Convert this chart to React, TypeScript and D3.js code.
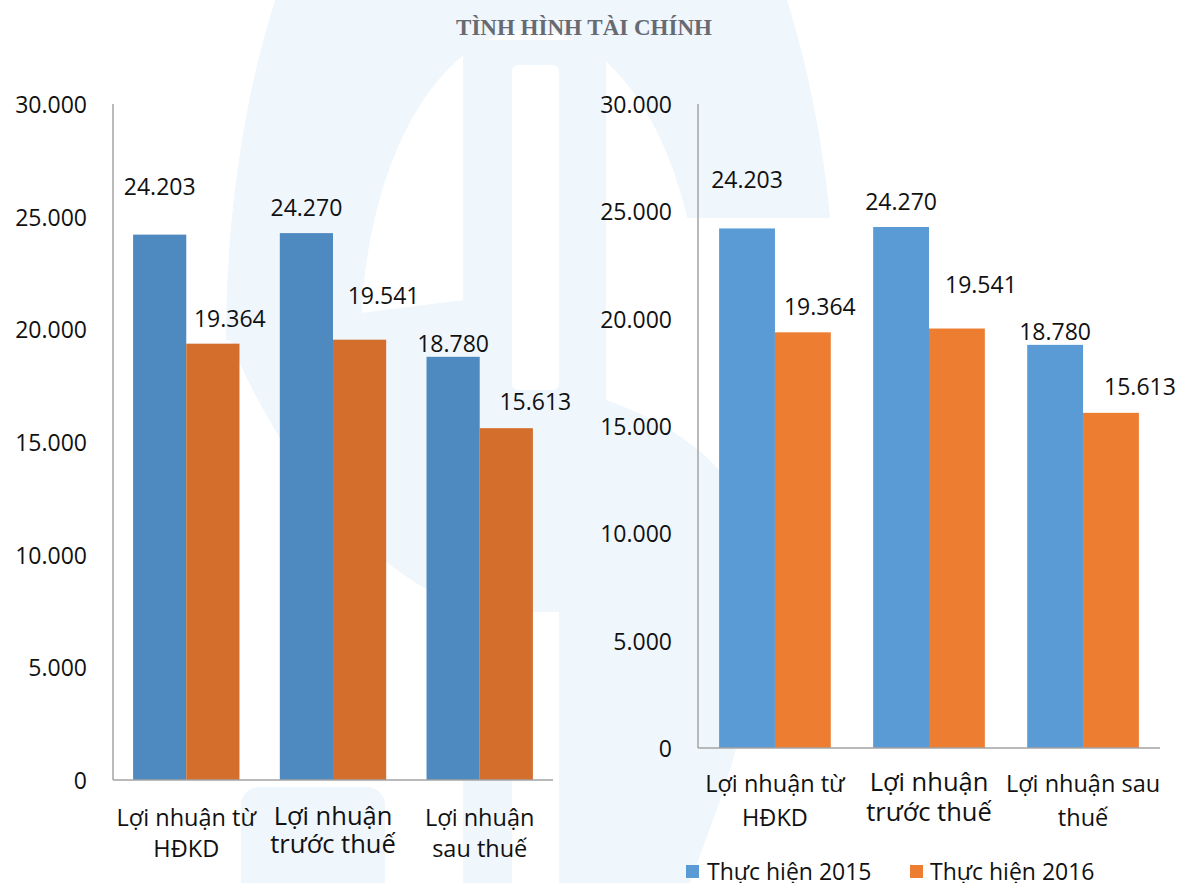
import React from 'react';
import * as d3 from 'd3';

const series = ['Thực hiện 2015', 'Thực hiện 2016'];
const values2015 = [24203, 24270, 18780];
const values2016 = [19364, 19541, 15613];
const yTicks = [0, 5000, 10000, 15000, 20000, 25000, 30000];
const leftCategories = [['Lợi nhuận từ', 'HĐKD'], ['Lợi nhuận', 'trước thuế'], ['Lợi nhuận', 'sau thuế']];
const rightCategories = [['Lợi nhuận từ', 'HĐKD'], ['Lợi nhuận', 'trước thuế'], ['Lợi nhuận sau', 'thuế']];

// hand-placed data labels in the original (offsets from bar top / bar centre)
const labelDx = [[0, 17], [0, 24], [0, 29]];
const labelDy = [[49, 26], [26, 45], [14, 27]];
const catFont = [23.5, 25.5, 23.5];

const W = 1182;
const H = 883;
const FONT = '"Open Sans", "Liberation Sans", sans-serif';
const WM = '#eff6fc';

const fmt = (v: number) => d3.format(',')(v).replace(/,/g, '.');

interface ChartProps {
  x0: number; x1: number; yTop: number; yBase: number;
  colors: string[];
  categories: string[][];
  catTop: number; catGap: number[];
}

function Chart({ x0, x1, yTop, yBase, colors, categories, catTop, catGap }: ChartProps) {
  const x = d3.scaleBand<number>().domain([0, 1, 2]).range([x0, x1]).paddingInner(0.275).paddingOuter(0.137);
  const xs = d3.scaleBand<number>().domain([0, 1]).range([0, x.bandwidth()]);
  const y = d3.scaleLinear().domain([0, 30000]).range([yBase, yTop]);
  const data = [values2015, values2016];

  return (
    <g>
      {data.map((vals, s) => vals.map((v, i) => (
        <rect key={`b${s}${i}`} x={x(i)! + xs(s)!} y={y(v)} width={xs.bandwidth()} height={yBase - y(v)} fill={colors[s]} />
      )))}
      <line x1={x0} x2={x0} y1={yTop} y2={yBase} stroke="#a3a3a3" strokeWidth={1.5} />
      <line x1={x0} x2={x1} y1={yBase} y2={yBase} stroke="#a3a3a3" strokeWidth={1.5} />
      {yTicks.map(t => (
        <text key={t} x={x0 - 26} y={y(t)} textAnchor="end" dominantBaseline="central" fontSize={23} fontFamily={FONT} fill="#111">{fmt(t)}</text>
      ))}
      {data.map((vals, s) => vals.map((v, i) => (
        <text key={`l${s}${i}`} x={x(i)! + xs(s)! + xs.bandwidth() / 2 + labelDx[i][s]} y={y(v) - labelDy[i][s]}
          textAnchor="middle" dominantBaseline="central" fontSize={23} fontFamily={FONT} fill="#111">{fmt(v)}</text>
      )))}
      {categories.map((lines, i) => {
        const big = catFont[i] > 24;
        return (
          <text key={`c${i}`} textAnchor="middle" fontSize={catFont[i]} fontFamily={FONT} fill="#111">
            {lines.map((ln, k) => (
              <tspan key={k} x={x(i)! + x.bandwidth() / 2} y={catTop + (big ? -2 : 0) + k * catGap[big ? 1 : 0]} dominantBaseline="central">{ln}</tspan>
            ))}
          </text>
        );
      })}
    </g>
  );
}

function Watermark() {
  const cx = 531, cy = 340;
  const oRx = 305, oRy = 625, iRx = 170, iRy = 310;
  const cut = 218;
  const ox = cx + oRx * Math.sqrt(1 - ((cy - cut) / oRy) ** 2);
  const ix = cx + iRx * Math.sqrt(1 - ((cy - cut) / iRy) ** 2);
  const ring = `M${cx - oRx},${cy} A${oRx},${oRy} 0 0 1 ${ox},${cut} L${ix},${cut} A${iRx},${iRy} 0 0 0 ${cx - iRx},${cy} Z`;
  const band = `M${cx - oRx},${cy - 10} L463,300 L463,605 C380,580 280,470 ${cx - oRx},${cy - 10} Z`;
  const lower = 'M606,400 C690,430 750,480 760,560 C770,680 720,800 690,883 L606,883 Z';
  return (
    <g fill={WM}>
      <path d={ring} />
      <path d={band} />
      <path d={lower} />
      <rect x={463} y={40} width={143} height={H - 40} />
      <rect x={241} y={787} width={144} height={120} rx={18} />
      <rect x={512} y={65} width={47} height={325} rx={6} fill="#fff" />
      <rect x={512} y={612} width={47} height={H - 612} fill="#fff" />
    </g>
  );
}

export default function App() {
  return (
    <div style={{ position: 'absolute', left: 0, top: 0 }}>
      <svg width={W} height={H} style={{ display: 'block', background: '#fff' }}>
        <Watermark />
        <text x={584} y={35} textAnchor="middle" fontFamily='"Liberation Serif", "Times New Roman", serif' fontWeight="bold" fontSize={23} fill="#676a70">TÌNH HÌNH TÀI CHÍNH</text>
        <Chart x0={113} x1={553} yTop={104} yBase={780} colors={['#4e89bf', '#d36e2c']} categories={leftCategories} catTop={817} catGap={[31, 28]} />
        <Chart x0={698} x1={1160} yTop={104} yBase={748} colors={['#5b9bd5', '#ed7d31']} categories={rightCategories} catTop={783} catGap={[34, 30]} />
        {series.map((s, i) => (
          <g key={s}>
            <rect x={[686, 910][i]} y={865} width={13} height={13} fill={['#5b9bd5', '#ed7d31'][i]} />
            <text x={[707, 930][i]} y={871} dominantBaseline="central" fontSize={23} fontFamily={FONT} fill="#111">{s}</text>
          </g>
        ))}
      </svg>
    </div>
  );
}
